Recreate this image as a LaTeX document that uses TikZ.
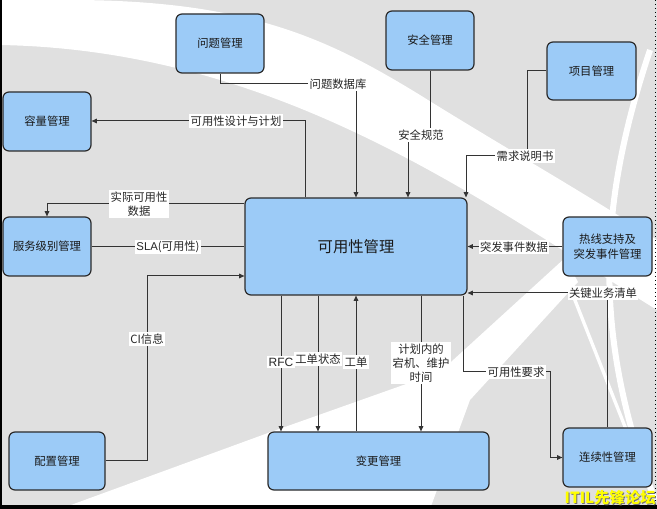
\documentclass[tikz,border=0pt]{standalone}
\usepackage{fontspec}
\setmainfont{Noto Sans CJK SC}
\newfontfamily\arialf{Liberation Sans}
\usetikzlibrary{arrows.meta,calc}
\definecolor{boxfill}{HTML}{9CCBF7}
\definecolor{boxdraw}{HTML}{2B2B2B}
\definecolor{linec}{HTML}{333333}
\definecolor{bggray}{HTML}{E0E0E0}
\definecolor{wmark}{HTML}{FFFF00}
\begin{document}
\begin{tikzpicture}[x=0.75pt,y=-0.75pt,
  box/.style={draw=boxdraw, line width=0.9pt, fill=boxfill, rounded corners=4.5pt, align=center,
    font=\fontsize{8.5}{11}\selectfont, inner sep=0pt, text=black!90},
  sz/.style 2 args={minimum width=#1*0.75pt, minimum height=#2*0.75pt},
  conn/.style={draw=linec, line width=0.75pt},
  arr/.style={conn, -{Triangle[length=4pt,width=3.5pt]}},
  lbl/.style={fill=white, inner sep=1pt, font=\fontsize{8.5}{10.5}\selectfont, text=black!85, align=center},
  band/.style={fill=white},
  wmstyle/.style={anchor=south east, inner sep=0pt, font=\bfseries\fontsize{11.5}{12}\selectfont}
]
% background
\useasboundingbox (0,0) rectangle (657,509);
\fill[bggray] (0,0) rectangle (657,509);
\fill[band] (0,0) -- (70,0) .. controls (250,0) and (330,40) .. (420,95)
  .. controls (500,145) and (580,190) .. (657,240) -- (657,310)
  .. controls (480,200) and (280,50) .. (0,45) -- cycle;
\fill[band] (60,509) -- (268,433) -- (440,372) -- (565,258) -- (578,282) -- (470,400) -- (430,509) -- cycle;
\draw[white, line width=4.5pt] (650,50) .. controls (600,200) and (590,330) .. (655,500);
\draw[white, line width=2.5pt] (565,275) -- (652,495);
% frame
\draw[black, line width=1.5pt] (0.8,0) -- (0.8,509);
\draw[black, line width=3pt] (0,507) -- (657,507);
\draw[black, line width=1pt, dotted] (655.5,0) -- (655.5,509);

% boxes
\node[box, sz={88}{59}] (prob) at (220,43.5) {问题管理};
\node[box, sz={88}{59}] (sec) at (430,40.5) {安全管理};
\node[box, sz={89}{58}] (proj) at (591.5,71) {项目管理};
\node[box, sz={88}{59}] (cap) at (47,121.5) {容量管理};
\node[box, sz={88}{59}] (slm) at (47,246.5) {服务级别管理};
\node[box, sz={222}{97}, font=\fontsize{11.5}{14}\selectfont] (avail) at (356,246.5) {可用性管理};
\node[box, sz={89}{59}, font=\fontsize{8.5}{11.5}\selectfont] (inc) at (607.5,246.5) {热线支持及\\突发事件管理};
\node[box, sz={96}{58}] (cfg) at (57,461) {配置管理};
\node[box, sz={221}{58}] (chg) at (378.5,461) {变更管理};
\node[box, sz={89}{59}] (cont) at (607.5,457.5) {连续性管理};

% helper coordinates
\coordinate (c1) at (356,84);
\coordinate (c2a) at (430,135);
\coordinate (c2b) at (408,135);
\coordinate (c3a) at (527,71);
\coordinate (c3b) at (527,156);
\coordinate (c3c) at (466,156);
\coordinate (c4a) at (305,121);
\coordinate (c5) at (47,204);
\coordinate (c7) at (147,276);
\coordinate (x281) at (281,0);
\coordinate (x318) at (318,0);
\coordinate (x356) at (356,0);
\coordinate (x421) at (421,0);
\coordinate (c12a) at (463,372);
\coordinate (c12b) at (550,372);
\coordinate (c14) at (607.5,293);

% connectors
\draw[arr] (prob.south) |- (c1) -- (c1 |- avail.north);
\node[lbl] at (338,84) {问题数据库};

\draw[arr] (sec.south) -- (c2a) -- (c2b) -- (c2b |- avail.north);
\node[lbl] at (421,135) {安全规范};

\draw[arr] (proj.west) -- (c3a) -- (c3b) -- (c3c) -- (c3c |- avail.north);
\node[lbl] at (525,156) {需求说明书};

\draw[arr] (c4a |- avail.north) -- (c4a) -- (c4a -| cap.east);
\node[lbl] at (236,121) {可用性设计与计划};

\draw[arr] (c5 -| avail.west) -- (c5) -- (slm.north);
\node[lbl] at (139,204) {实际可用性\\数据};

\draw[conn] (slm.east) -- (avail.west);
\node[lbl] at (168,247) {{\arialf SLA}(可用性)};

\draw[arr] (cfg.east) -| (c7) -- (c7 -| avail.west);
\node[lbl] at (147,339) {CI信息};

\draw[arr] (x281 |- avail.south) -- (x281 |- chg.north);
\node[lbl, font=\arialf\fontsize{9}{10}\selectfont] at (281,362) {RFC};

\draw[arr] (x318 |- avail.south) -- (x318 |- chg.north);
\node[lbl] at (318,359) {工单状态};

\draw[arr] (x356 |- chg.north) -- (x356 |- avail.south);
\node[lbl] at (356,362) {工单};

\draw[arr] (x421 |- avail.south) -- (x421 |- chg.north);
\node[lbl] at (421,363) {计划内的\\宕机、维护\\时间};

\draw[arr] (c12a |- avail.south) -- (c12a) -- (c12b) |- (cont.west);
\node[lbl] at (516,372) {可用性要求};

\draw[arr] (inc.west) -- (avail.east);
\node[lbl] at (514,247) {突发事件数据};

\draw[arr] (cont.north) -- (c14) -- (c14 -| avail.east);
\node[lbl] at (603,293) {关键业务清单};

% watermark (shadow + text)
\node[wmstyle, text=black!55] at (657,506) {ITIL先锋论坛};
\node[wmstyle, text=wmark] (wm) at (656,505) {ITIL先锋论坛};
\end{tikzpicture}
\end{document}
